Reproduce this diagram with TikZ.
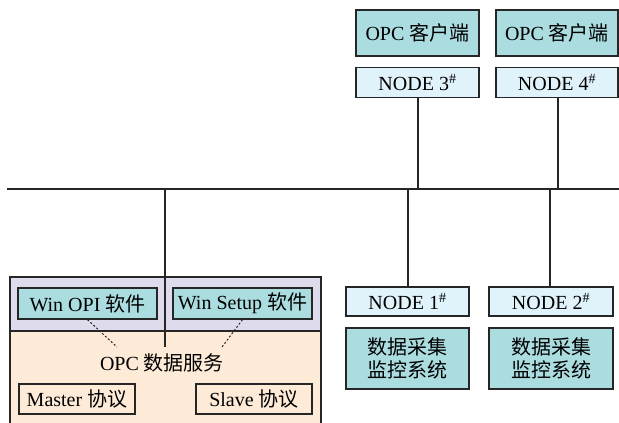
\documentclass[tikz,border=0pt]{standalone}
\usepackage{fontspec}
\setmainfont{Liberation Serif}
\newfontfamily\cjk{Noto Sans CJK SC}
\definecolor{teal1}{HTML}{ABDCE0}
\definecolor{nodefill}{HTML}{E1F3FA}
\definecolor{purp}{HTML}{DDDBEC}
\definecolor{orng}{HTML}{FDEBD7}
\begin{document}
\begin{tikzpicture}[x=1pt,y=-1pt,
  every node/.style={font=\fontsize{20}{23}\selectfont, inner sep=0pt, align=center},
  bx/.style={draw=black!85, line width=1.3pt, minimum width=#1},
  tealbox/.style={bx=123pt, fill=teal1},
  nbox/.style={bx=123pt, fill=nodefill, minimum height=30pt},
  winbox/.style={bx=139pt, fill=teal1, minimum height=31pt},
  protbox/.style={bx=116pt, fill=orng, minimum height=30pt},
  wire/.style={line width=1.8pt, black!85},
  dots/.style={line width=1pt, dashed, dash pattern=on 2pt off 2pt, black!85}]
\useasboundingbox (0,0) rectangle (619,423);
% left group background
\fill[purp] (10,277) rectangle (321,331);
\fill[orng] (10,331) rectangle (321,423);
\draw[line width=1.3pt, black!85] (10,424) -- (10,277) -- (321,277) -- (321,424);
\draw[line width=1.3pt, black!85] (10,331) -- (321,331);
% top clients
\node[tealbox, minimum height=46pt] (c3) at (417.5,33) {OPC {\cjk 客户端}};
\node[tealbox, minimum height=46pt, minimum width=122pt] (c4) at (557,33) {OPC {\cjk 客户端}};
\node[nbox] (n3) at (417.5,82.5) {NODE 3$^{\#}$};
\node[nbox, minimum width=122pt] (n4) at (557,82.5) {NODE 4$^{\#}$};
% lower right
\node[nbox, minimum height=29pt] (n1) at (407.5,301.5) {NODE 1$^{\#}$};
\node[nbox, minimum height=29pt, minimum width=124pt] (n2) at (551,301.5) {NODE 2$^{\#}$};
\node[tealbox, minimum height=61pt] (d1) at (407.5,358.5) {\cjk 数据采集\\\cjk 监控系统};
\node[tealbox, minimum height=61pt, minimum width=124pt] (d2) at (551,358.5) {\cjk 数据采集\\\cjk 监控系统};
% left group content
\node[winbox] (wo) at (87.5,303.5) {Win OPI {\cjk 软件}};
\node[winbox] (ws) at (242.5,303.5) {Win Setup {\cjk 软件}};
\node (opc) at (162,363) {OPC {\cjk 数据服务}};
\node[protbox] (ma) at (77,399) {Master {\cjk 协议}};
\node[protbox] (sl) at (254,399) {Slave {\cjk 协议}};
% bus
\coordinate (busL) at (7,189);
\coordinate (busR) at (619,189);
\coordinate (b3) at (418,189);
\coordinate (b4) at (558,189);
\coordinate (b1) at (408,189);
\coordinate (b2) at (550,189);
\coordinate (b0) at (165,189);
\coordinate (e0) at (165,347);
\coordinate (dw1) at (117,347);
\coordinate (dw2) at (222,347);
\draw[wire, line width=2pt] (busL) -- (busR);
\draw[wire] (n3.south -| b3) -- (b3);
\draw[wire] (n4.south -| b4) -- (b4);
\draw[wire] (b1) -- (n1.north -| b1);
\draw[wire] (b2) -- (n2.north -| b2);
\draw[wire] (b0) -- (e0);
\draw[dots] (wo.south) -- (dw1);
\draw[dots] (ws.south) -- (dw2);
\end{tikzpicture}
\end{document}
